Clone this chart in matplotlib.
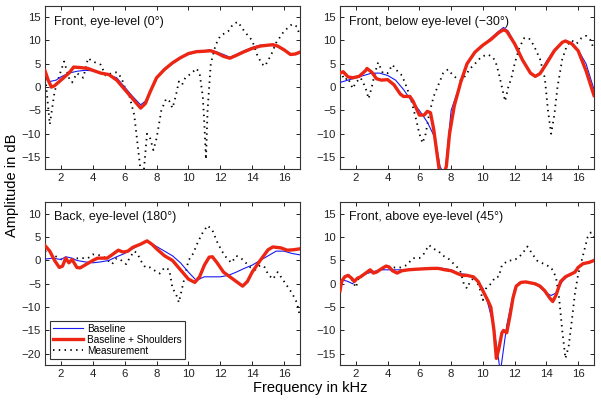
import matplotlib
matplotlib.use("Agg")
import matplotlib.pyplot as plt
from matplotlib.lines import Line2D

plt.rcParams['font.family'] = ['Liberation Sans', 'DejaVu Sans']

# ---------------- data ----------------
titles = ["Front, eye-level (0°)", "Front, below eye-level (\u221230°)",
          "Back, eye-level (180°)", "Front, above eye-level (45°)"]
xticks = [2, 4, 6, 8, 10, 12, 14, 16]

# Panel 1: Front, eye-level (0)
p1_base_f = [1, 1.3, 1.7, 2, 2.5, 3, 3.5, 4, 4.5, 5, 5.5, 6, 6.5, 7, 7.3, 7.6, 8, 8.5, 9, 9.5, 10, 10.5, 10.8, 11.3,
             11.8, 12.2, 12.6, 13, 13.5, 14, 14.5, 15, 15.5, 16, 16.5, 17]
p1_base_v = [2.5, 1.2, 1.5, 2.2, 3.0, 3.4, 3.6, 3.5, 3.0, 2.6, 2.0, 0.0, -2.0, -3.8, -3.0, -0.8, 2.0, 3.8, 5.0, 6.2, 7.0,
             7.5, 7.6, 8.0, 7.5, 7.0, 6.4, 7.0, 7.8, 8.5, 9.0, 9.0, 8.8, 8.0, 7.0, 7.5]
p1_shou_f = [1, 1.2, 1.4, 1.6, 2, 2.5, 2.8, 3.2, 3.7, 4, 4.5, 5, 5.5, 6, 6.5, 7, 7.3, 7.6, 8, 8.5, 9, 9.5, 10, 10.5,
             11, 11.4, 11.8, 12.2, 12.6, 13, 13.5, 14, 14.5, 15, 15.3, 15.6, 16, 16.4, 16.7, 17]
p1_shou_v = [3.5, 1.5, 0.0, 0.3, 1.5, 3.0, 4.3, 4.2, 4.0, 3.6, 3.0, 2.7, 1.5, -0.5, -2.5, -4.5, -3.5, -1.0, 2.0, 3.8,
             5.2, 6.3, 7.2, 7.6, 7.7, 7.8, 7.3, 6.6, 6.2, 6.8, 7.6, 8.3, 8.8, 9.0, 9.1, 8.8, 8.0, 7.0, 7.1, 7.5]
p1_meas_f = [1, 1.3, 1.6, 1.9, 2.2, 2.5, 2.7, 3.0, 3.4, 3.7, 4.0, 4.5, 4.8, 5.2, 5.5, 5.8, 6.0, 6.3, 6.6, 6.8, 7.0,
             7.2, 7.4, 7.6, 7.8, 8.0, 8.3, 8.6, 8.8, 9.0, 9.2, 9.4, 9.6, 9.8, 10.2, 10.5, 10.7, 10.9, 11.0, 11.1,
             11.2, 11.4, 11.7, 12.0, 12.5, 12.8, 13.1, 13.5, 14.0, 14.3, 14.6, 14.8, 15.2, 15.5, 16.0, 16.5, 16.8, 17]
p1_meas_v = [3.0, -8.0, -1.0, 2.5, 5.5, 2.0, 1.0, 3.0, 2.0, 6.2, 5.5, 4.8, 2.5, 3.0, 3.2, 2.0, 0.0, -2.0, -6.0, -12.0,
             -18.0, -18.0, -10.0, -11.0, -13.5, -11.0, -5.0, -2.5, -3.0, -4.5, -2.0, 1.2, 0.5, 2.0, 3.0, 4.0, 3.0,
             -2.0, -8.0, -15.5, -5.0, 5.0, 9.0, 11.0, 12.0, 13.5, 14.0, 12.0, 10.0, 7.0, 5.0, 4.5, 7.0, 9.5, 12.0,
             13.5, 13.0, 11.0]

# Panel 2: Front, below eye-level (-30)
p2_base_f = [1, 1.5, 2, 2.5, 3, 3.5, 4, 4.5, 5, 5.5, 6, 6.5, 7, 7.3, 7.6, 7.8, 8, 8.5, 9, 9.5, 10, 10.5, 11, 11.3,
             11.6, 12, 12.5, 13, 13.3, 13.6, 14, 14.5, 15, 15.3, 15.7, 16, 16.5, 17]
p2_base_v = [1.0, 1.5, 2.0, 2.5, 3.0, 3.0, 2.5, 1.5, -0.5, -3.0, -5.0, -7.5, -11.0, -17.0, -19.0, -12.0, -5.0, 0.0,
             5.0, 7.5, 9.0, 10.5, 12.0, 12.8, 12.0, 9.5, 6.0, 3.0, 2.3, 3.0, 5.5, 8.0, 9.6, 9.8, 9.2, 8.0, 5.0, -0.5]
p2_shou_f = [1, 1.2, 1.5, 1.8, 2.2, 2.6, 2.7, 3.0, 3.3, 3.6, 4.0, 4.4, 4.8, 5.0, 5.4, 5.6, 5.8, 6.0, 6.3, 6.5, 6.7,
             6.9, 7.1, 7.3, 7.5, 7.7, 7.9, 8.2, 8.6, 9.0, 9.5, 10, 10.5, 11, 11.3, 11.5, 12, 12.5, 13, 13.3, 13.6,
             14, 14.5, 15, 15.2, 15.6, 16, 16.5, 17]
p2_shou_v = [3.0, 3.3, 2.2, 2.0, 2.3, 3.5, 4.0, 3.2, 1.8, 1.5, 1.6, 0.5, -1.5, -2.0, -2.0, -3.0, -4.5, -6.0, -6.0,
             -5.2, -5.5, -9.0, -14.0, -19.0, -19.0, -17.0, -10.0, -4.0, 1.0, 5.0, 7.5, 9.0, 10.2, 11.7, 12.3, 12.0,
             9.3, 5.8, 3.0, 2.3, 2.9, 5.0, 7.8, 9.6, 9.9, 9.3, 7.8, 3.5, -1.8]
p2_meas_f = [1, 1.3, 1.5, 1.8, 2.0, 2.3, 2.6, 2.8, 3.0, 3.2, 3.4, 3.7, 4.0, 4.3, 4.6, 4.9, 5.2, 5.5, 5.8, 6.0, 6.2,
             6.4, 6.6, 6.9, 7.2, 7.5, 7.8, 8.0, 8.3, 8.6, 8.8, 9.2, 9.5, 9.9, 10.3, 10.6, 10.8, 11.0, 11.2, 11.4,
             11.6, 11.8, 12.0, 12.3, 12.6, 12.9, 13.2, 13.6, 13.9, 14.1, 14.3, 14.5, 14.7, 15.0, 15.3, 15.6, 15.9,
             16.2, 16.5, 16.8, 17]
p2_meas_v = [3.5, 1.5, 2.0, -0.3, 1.0, 2.0, 0.0, -2.5, 0.0, 3.0, 5.3, 3.0, 3.0, 4.8, 3.5, 2.5, 0.0, -3.0, -7.0,
             -10.0, -12.0, -10.0, -6.0, -2.0, 0.5, 3.0, 3.8, 3.0, 2.0, 1.5, 2.0, 4.0, 5.0, 6.5, 7.0, 6.5, 5.5, 3.0,
             0.0, -3.0, 0.0, 2.0, 5.0, 8.5, 10.5, 10.5, 9.0, 6.0, 2.0, -5.0, -10.0, -6.0, 0.0, 6.0, 9.0, 10.0, 9.3,
             10.5, 11.0, 10.0, 8.0]

# Panel 3: Back, eye-level (180)
p3_base_f = [1, 1.5, 2, 2.3, 2.7, 3, 3.5, 4, 4.5, 5, 5.5, 6, 6.5, 7, 7.3, 7.6, 8, 8.5, 9, 9.5, 10, 10.5, 10.8, 11,
             12, 12.5, 13, 13.5, 14, 14.5, 15, 15.5, 16, 16.5, 17]
p3_base_v = [0.3, 0.5, 0.2, 0.8, 0.5, 0.0, -0.3, -0.5, -0.3, 0.0, 0.8, 1.5, 2.5, 3.5, 4.0, 3.8, 3.0, 2.0, 1.0, -0.5,
             -2.5, -4.3, -3.8, -3.5, -3.5, -3.2, -2.5, -1.7, -1.0, 0.0, 1.0, 2.0, 2.0, 1.5, 1.2]
p3_shou_f = [1, 1.3, 1.6, 1.9, 2.1, 2.3, 2.5, 2.7, 3.0, 3.2, 3.5, 4.0, 4.3, 4.6, 4.9, 5.2, 5.6, 5.9, 6.2, 6.5, 7.0,
             7.4, 7.7, 8.0, 8.5, 9, 9.5, 10, 10.4, 10.7, 11, 11.3, 11.5, 11.8, 12.2, 12.6, 13, 13.4, 13.7, 14, 14.5,
             15, 15.3, 15.8, 16.2, 16.6, 17]
p3_shou_v = [3.2, 2.0, 0.0, -1.5, -1.2, 0.5, -0.5, 0.2, -1.5, -1.6, -1.0, 0.0, 0.5, 0.5, 0.5, 1.2, 2.2, 1.8, 2.0,
             2.8, 3.5, 4.2, 3.5, 2.5, 1.0, 0.0, -2.0, -4.0, -4.7, -3.5, -1.0, 0.7, 0.8, -0.5, -2.5, -3.5, -4.5,
             -5.5, -4.5, -2.5, 0.0, 2.3, 2.9, 2.7, 2.2, 2.3, 2.5]
p3_meas_f = [1, 1.3, 1.6, 1.9, 2.2, 2.5, 2.8, 3.1, 3.4, 3.7, 4.0, 4.3, 4.6, 4.9, 5.2, 5.5, 5.8, 6.1, 6.3, 6.6, 6.8,
             7.0, 7.3, 7.6, 7.9, 8.2, 8.5, 8.8, 9.0, 9.2, 9.4, 9.6, 9.8, 10.0, 10.3, 10.6, 10.9, 11.2, 11.5, 11.8,
             12.1, 12.4, 12.7, 13.0, 13.3, 13.6, 13.9, 14.2, 14.5, 14.8, 15.0, 15.3, 15.6, 15.9, 16.2, 16.5, 16.8, 17]
p3_meas_v = [2.0, 1.5, 1.0, 0.5, -0.2, 0.2, 0.3, 0.5, 0.5, 0.5, 1.3, 1.2, 1.0, 0.2, -0.8, 0.5, 0.0, -0.8, 0.5, 2.0,
             1.5, 0.0, -1.5, -1.5, -2.2, -2.8, -1.5, -2.0, -6.0, -7.0, -9.0, -6.0, -3.0, 0.0, 1.5, 4.0, 6.0, 7.5,
             6.5, 4.0, 2.0, 0.5, -0.5, 1.0, 0.5, -0.5, -1.5, -2.0, -1.0, -1.5, -3.0, -4.0, -2.5, -4.0, -5.5, -7.0,
             -9.0, -12.0]

# Panel 4: Front, above eye-level (45)
p4_base_f = [1, 1.2, 1.5, 1.8, 2, 2.5, 3, 3.5, 4, 5, 6, 7, 7.5, 8, 8.5, 9, 9.5, 10, 10.3, 10.6, 10.9, 11.1, 11.3,
             11.5, 11.8, 12, 12.3, 12.7, 13, 13.5, 14, 14.3, 14.6, 15, 15.3, 15.6, 16, 16.5, 17]
p4_base_v = [-1.0, 0.8, 0.5, 0.0, 1.0, 2.0, 2.5, 3.0, 3.0, 3.0, 3.2, 3.5, 3.3, 3.0, 2.2, 2.0, 1.3, -1.0, -4.0, -8.0,
             -14.0, -19.0, -14.0, -9.0, -4.0, -1.0, 0.3, 0.4, 0.2, -0.5, -2.0, -2.5, -2.0, 0.5, 1.5, 2.0, 3.5, 4.5,
             5.0]
p4_shou_f = [1, 1.1, 1.3, 1.5, 1.7, 1.9, 2.1, 2.3, 2.5, 2.7, 2.9, 3.1, 3.3, 3.6, 3.9, 4.1, 4.3, 4.6, 4.9, 5.3, 5.7,
             6.2, 6.8, 7.2, 7.6, 8.0, 8.4, 8.7, 9.0, 9.4, 9.7, 10.0, 10.3, 10.5, 10.7, 10.85, 11.0, 11.2, 11.3, 11.5,
             11.7, 11.9, 12.1, 12.4, 12.7, 13.0, 13.3, 13.6, 13.9, 14.2, 14.4, 14.6, 14.9, 15.2, 15.5, 15.8, 16.0,
             16.3, 16.7, 17]
p4_shou_v = [-1.5, 0.5, 1.5, 1.8, 1.3, 0.5, 1.2, 1.5, 2.0, 2.5, 3.0, 2.3, 2.5, 3.2, 3.8, 3.6, 2.8, 2.3, 2.8, 3.0, 3.1,
             3.2, 3.3, 3.3, 3.0, 2.8, 2.2, 1.8, 1.8, 1.5, 0.5, -1.5, -3.5, -5.0, -10.0, -16.0, -14.0, -10.5, -10.0,
             -10.5, -7.0, -3.0, -0.5, 0.3, 0.4, 0.2, 0.0, -0.5, -1.5, -3.0, -3.8, -2.5, 0.5, 1.5, 2.0, 2.5, 3.5,
             4.3, 4.6, 5.0]
p4_meas_f = [1, 1.2, 1.4, 1.6, 1.8, 2.0, 2.2, 2.5, 2.8, 3.0, 3.3, 3.6, 4.0, 4.4, 4.8, 5.2, 5.6, 6.0, 6.3, 6.6, 6.9,
             7.2, 7.5, 7.8, 8.1, 8.4, 8.6, 8.8, 9.0, 9.2, 9.5, 9.8, 10.0, 10.2, 10.5, 10.8, 11.0, 11.2, 11.4, 11.6,
             11.9, 12.2, 12.5, 12.8, 13.1, 13.4, 13.7, 14.0, 14.3, 14.6, 14.8, 15.0, 15.2, 15.4, 15.6, 15.8, 16.0,
             16.3, 16.6, 16.8, 17]
p4_meas_v = [-1.0, 1.0, 2.0, 1.8, 0.5, -0.8, 1.5, 2.0, 2.5, 2.8, 2.5, 3.0, 3.5, 3.5, 3.5, 4.0, 5.5, 5.5, 6.5, 8.3,
             7.5, 7.0, 6.0, 5.5, 4.5, 3.5, 2.5, 0.0, -1.0, 0.5, 1.5, -1.0, -3.5, -1.0, 0.0, 1.5, 1.5, 4.0, 4.5, 5.0,
             5.0, 5.5, 6.5, 8.0, 6.5, 5.0, 4.5, 4.0, 3.5, 1.5, -3.0, -10.0, -16.0, -13.5, -8.0, -2.0, 2.0, 6.0,
             10.0, 11.0, 10.0]

panels = [
    (p1_base_f, p1_base_v, p1_shou_f, p1_shou_v, p1_meas_f, p1_meas_v),
    (p2_base_f, p2_base_v, p2_shou_f, p2_shou_v, p2_meas_f, p2_meas_v),
    (p3_base_f, p3_base_v, p3_shou_f, p3_shou_v, p3_meas_f, p3_meas_v),
    (p4_base_f, p4_base_v, p4_shou_f, p4_shou_v, p4_meas_f, p4_meas_v),
]
yticks_list = [[-15, -10, -5, 0, 5, 10, 15], [-15, -10, -5, 0, 5, 10, 15],
               [-20, -15, -10, -5, 0, 5, 10], [-15, -10, -5, 0, 5, 10, 15]]
ylims = [(-17.5, 17.4), (-17.5, 17.4), (-22.3, 12.6), (-17.3, 17.6)]
legend_labels = ["Baseline", "Baseline + Shoulders", "Measurement"]

# ---------------- figure ----------------
fig = plt.figure(figsize=(6.01, 4.0), dpi=100)
W, H = 601.0, 400.0
rects = [(45, 6, 300, 168.7), (340, 6, 594, 168.7), (45, 201.7, 300, 364.5), (340, 201.7, 594, 364.5)]

blue = (0.1, 0.1, 0.95)
red = (0.93, 0.15, 0.08)
fs_tick = 8.2

for i, (r, data) in enumerate(zip(rects, panels)):
    x0, y0, x1, y1 = r
    ax = fig.add_axes([x0 / W, 1 - y1 / H, (x1 - x0) / W, (y1 - y0) / H])
    bf, bv, sf, sv, mf, mv = data
    ax.plot(bf, bv, color=blue, lw=0.8, zorder=3)
    ax.plot(sf, sv, color=red, lw=2.4, zorder=4)
    ax.plot(mf, mv, color='black', lw=1.3, linestyle=(0, (0.8, 2.4)), zorder=2)
    ax.set_xlim(1, 17)
    ax.set_ylim(*ylims[i])
    ax.set_xticks(xticks)
    ax.set_yticks(yticks_list[i])
    ax.set_yticklabels([str(t).replace('-', '\u2212') for t in yticks_list[i]])
    ax.tick_params(direction='in', top=True, right=True, length=3, width=0.7,
                   labelsize=fs_tick, pad=3, colors='#222222')
    for s in ax.spines.values():
        s.set_linewidth(0.8)
        s.set_color('#333333')
    ax.text(0.035, 0.94, titles[i], transform=ax.transAxes, ha='left', va='top',
            fontsize=9, color='#111111')
    if i == 2:
        handles = [Line2D([], [], color=blue, lw=0.8),
                   Line2D([], [], color=red, lw=2.4),
                   Line2D([], [], color='black', lw=1.3, linestyle=(0, (0.8, 2.4)))]
        leg = ax.legend(handles, legend_labels, loc='lower left', fontsize=7.2,
                        frameon=True, fancybox=False, framealpha=1,
                        edgecolor='#333333', borderpad=0.3, labelspacing=0.1,
                        handlelength=3.0, handletextpad=0.4, borderaxespad=0,
                        bbox_to_anchor=(0.02, 0.035))
        leg.get_frame().set_linewidth(0.8)

fig.text(12 / W, 1 - 185 / H, "Amplitude in dB", rotation=90, ha='center', va='center', fontsize=10.5)
fig.text(310 / W, 1 - 388 / H, "Frequency in kHz", ha='center', va='center', fontsize=10.5)

fig.savefig("out.png", dpi=100)
